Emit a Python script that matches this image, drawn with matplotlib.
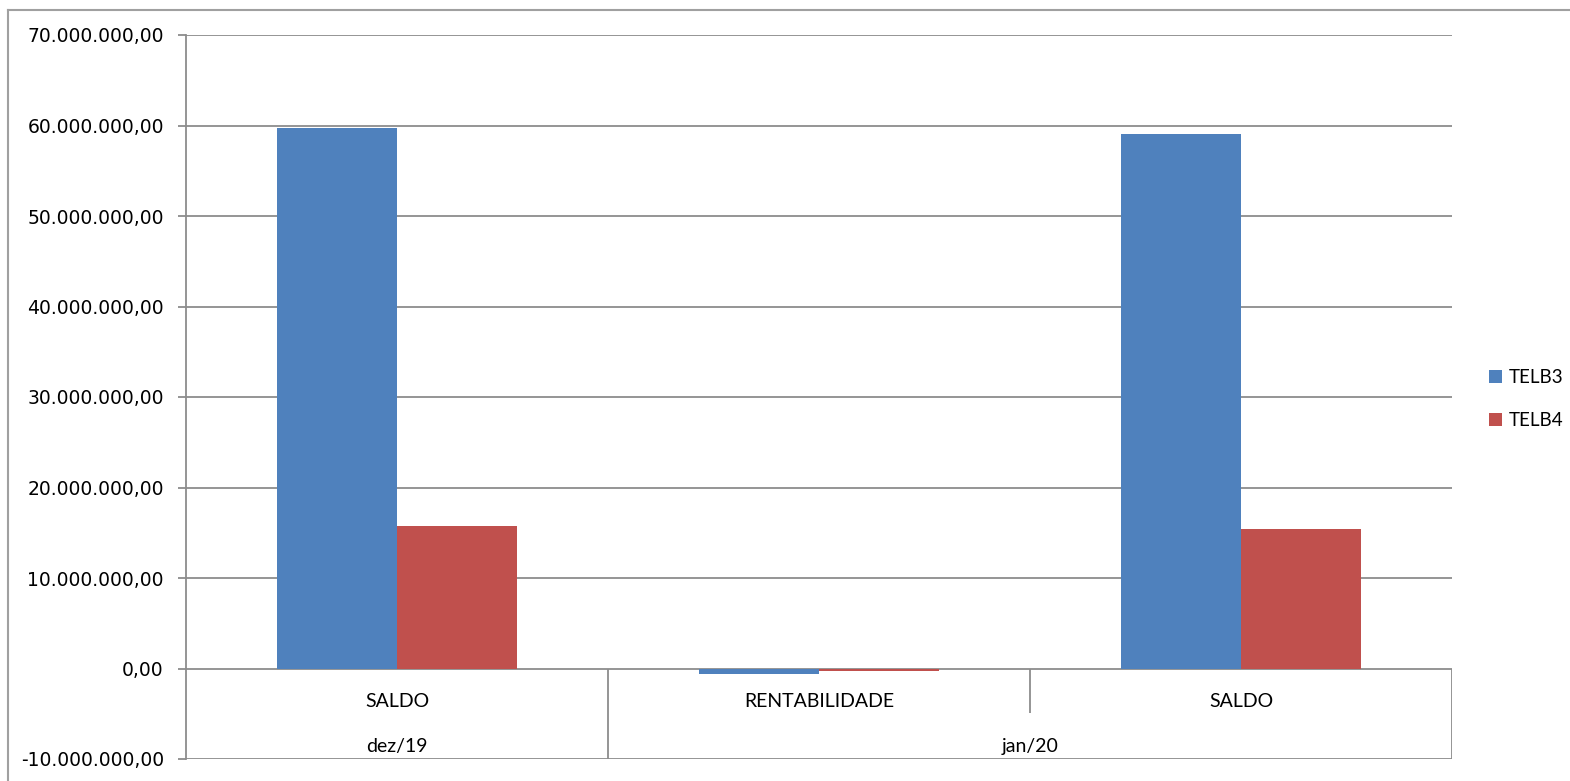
import matplotlib.pyplot as plt
from matplotlib.lines import Line2D
from matplotlib.ticker import FuncFormatter

# Chart data
categories = ["SALDO", "RENTABILIDADE", "SALDO"]
groups = ["dez/19", "jan/20"]
group_spans = [(0, 0), (1, 2)]   # first and last category index of each group
telb3 = [59_700_000, -650_000, 59_100_000]
telb4 = [15_700_000, -280_000, 15_400_000]
series_names = ["TELB3", "TELB4"]
y_ticks = list(range(-10_000_000, 70_000_001, 10_000_000))

blue = "#4F81BD"
red = "#C0504D"
grid_color = "#8c8c8c"


def br_format(value, pos):
    """Formats a number the Brazilian way: 60.000.000,00"""
    text = "{:,.2f}".format(value)
    return text.replace(",", "X").replace(".", ",").replace("X", ".")


fig = plt.figure(figsize=(15.7, 7.81), dpi=100)
ax = fig.add_axes([186 / 1570, 1 - 759 / 781, (1452 - 186) / 1570, (759 - 35) / 781])

width = 0.285
x = list(range(len(categories)))
ax.bar([i - width / 2 for i in x], telb3, width, color=blue, label=series_names[0], zorder=3)
ax.bar([i + width / 2 for i in x], telb4, width, color=red, label=series_names[1], zorder=3)

ax.set_xlim(-0.5, len(categories) - 0.5)
ax.set_ylim(y_ticks[0], y_ticks[-1])
ax.set_yticks(y_ticks)
ax.yaxis.set_major_formatter(FuncFormatter(br_format))
ax.tick_params(axis="y", length=6, width=1.3, color=grid_color, pad=10,
               labelsize=13.5, labelcolor="black")
ax.set_xticks([])

for spine in ["top", "right", "bottom"]:
    ax.spines[spine].set_visible(False)
ax.spines["left"].set_color(grid_color)
ax.spines["left"].set_linewidth(1.3)

# Horizontal gridlines
for t in y_ticks:
    ax.axhline(t, color=grid_color, lw=1.3, zorder=1)

# Multi-level category axis under the zero line
low = y_ticks[0]
ax.vlines([0.5, 2.5], low, 0, color=grid_color, lw=1.3, zorder=2)
ax.vlines([1.5], -4_900_000, 0, color=grid_color, lw=1.3, zorder=2)

label_font = {"family": ["Lato", "DejaVu Sans"], "size": 14}
for i, name in enumerate(categories):
    ax.text(i, -3_600_000, name, ha="center", va="center", **label_font)
for name, (a, b) in zip(groups, group_spans):
    ax.text((a + b) / 2, -8_600_000, name, ha="center", va="center", **label_font)

ax.legend(loc="center left", bbox_to_anchor=((1489 - 186) / 1266, 0.497), frameon=False,
          borderaxespad=0, borderpad=0,
          prop={"family": ["Lato", "DejaVu Sans"], "size": 13.5},
          handlelength=0.7, handleheight=0.7, handletextpad=0.35, labelspacing=1.4)

# Outer chart border (only top and left edges fall inside the picture)
fig.add_artist(Line2D([8 / 1570, 1], [1 - 10 / 781] * 2, color="#a0a0a0", lw=1.5,
                      transform=fig.transFigure))
fig.add_artist(Line2D([8 / 1570] * 2, [0, 1 - 10 / 781], color="#a0a0a0", lw=1.5,
                      transform=fig.transFigure))

fig.savefig("out.png", dpi=100)
